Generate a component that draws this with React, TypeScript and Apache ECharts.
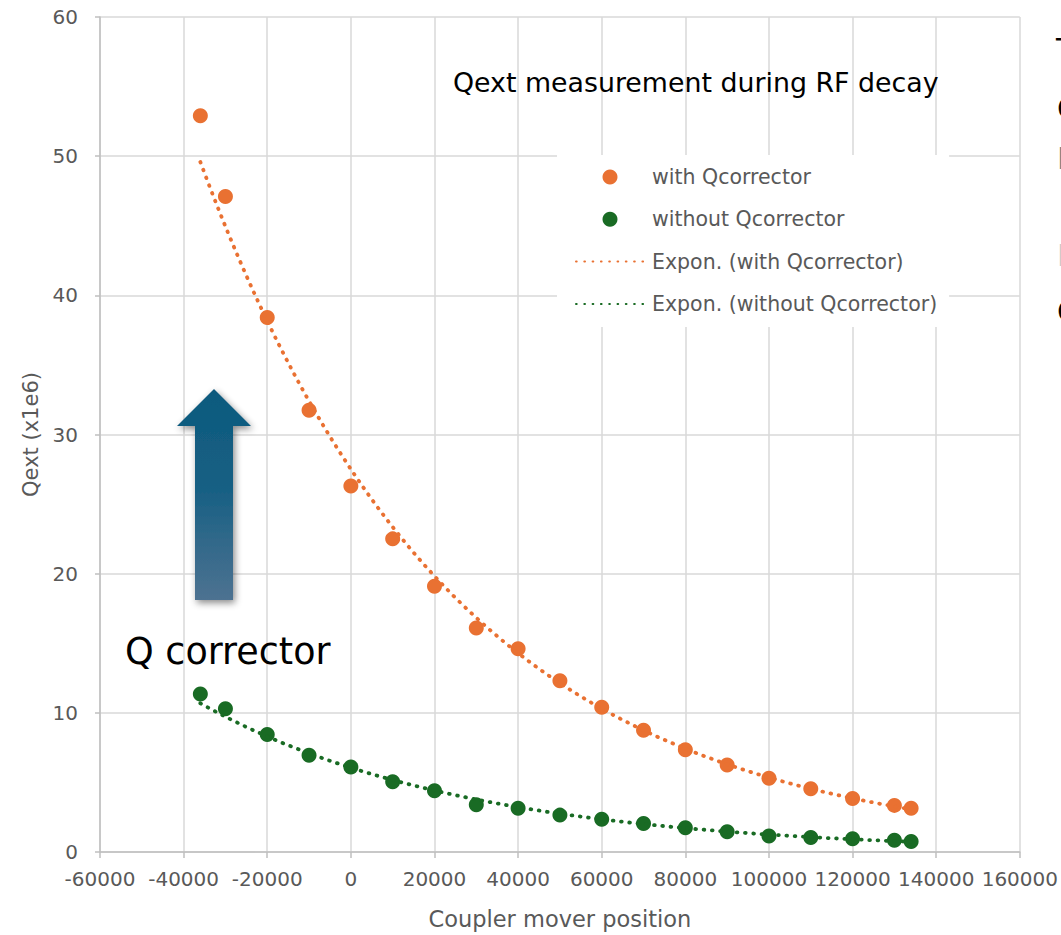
import React, { useEffect, useRef } from "react";
import * as echarts from "echarts";

// Coupler mover positions (x) and measured Qext values (x1e6)
const positions = [
  -36000, -30000, -20000, -10000, 0, 10000, 20000, 30000, 40000, 50000, 60000,
  70000, 80000, 90000, 100000, 110000, 120000, 130000, 134000,
];
const withCorrector = [
  52.9, 47.1, 38.4, 31.75, 26.3, 22.5, 19.1, 16.1, 14.6, 12.3, 10.4, 8.75, 7.35,
  6.25, 5.3, 4.55, 3.85, 3.35, 3.15,
];
const withoutCorrector = [
  11.35, 10.3, 8.45, 6.95, 6.1, 5.05, 4.4, 3.4, 3.15, 2.65, 2.35, 2.05, 1.75,
  1.45, 1.15, 1.05, 0.95, 0.85, 0.75,
];

const seriesNames = [
  "with Qcorrector",
  "without Qcorrector",
  "Expon. (with Qcorrector)",
  "Expon. (without Qcorrector)",
];

const ORANGE = "#E97132";
const GREEN = "#196B24";
const TEXT_GREY = "#595959";
const FONT = "DejaVu Sans";

// Least-squares exponential trend y = a * exp(b * x), fitted on ln(y)
function expTrend(xs: number[], ys: number[], steps: number) {
  const n = xs.length;
  let sx = 0, sy = 0, sxx = 0, sxy = 0;
  for (let i = 0; i < n; i++) {
    const ly = Math.log(ys[i]);
    sx += xs[i];
    sy += ly;
    sxx += xs[i] * xs[i];
    sxy += xs[i] * ly;
  }
  const b = (n * sxy - sx * sy) / (n * sxx - sx * sx);
  const a = Math.exp((sy - b * sx) / n);
  const x0 = Math.min(...xs);
  const x1 = Math.max(...xs);
  const pts: number[][] = [];
  for (let i = 0; i <= steps; i++) {
    const x = x0 + ((x1 - x0) * i) / steps;
    pts.push([x, a * Math.exp(b * x)]);
  }
  return pts;
}

const pairs = (ys: number[]) => positions.map((x, i) => [x, ys[i]]);

export default function App() {
  const ref = useRef<HTMLDivElement>(null);

  useEffect(() => {
    if (!ref.current) return;
    const chart = echarts.init(ref.current, undefined, { renderer: "svg" });

    const axisLineStyle = { color: "#BFBFBF", width: 1.5 };
    const gridLineStyle = { color: "#D9D9D9", width: 1.5 };
    const dotted = (color: string) => ({
      color,
      width: 3.8,
      type: [0.7, 7.6],
      cap: "round",
    });
    const trendSeries = (name: string, color: string, ys: number[]) => ({
      name,
      type: "line",
      symbol: "circle",
      symbolSize: 0,
      showSymbol: false,
      // transparent item colour keeps the legend icon a plain dotted line
      itemStyle: { color: "rgba(0,0,0,0)", borderWidth: 0 },
      lineStyle: dotted(color),
      data: expTrend(positions, ys, 160),
      z: 4,
    });

    chart.setOption({
      animation: false,
      backgroundColor: "#ffffff",
      textStyle: { fontFamily: FONT },
      grid: { left: 100, top: 17, width: 921, height: 835 },
      xAxis: {
        type: "value",
        min: -60000,
        max: 160000,
        interval: 20000,
        name: "Coupler mover position",
        nameLocation: "middle",
        nameGap: 55,
        nameTextStyle: { fontSize: 22.5, color: TEXT_GREY, fontFamily: FONT },
        axisLine: { show: true, onZero: false, lineStyle: axisLineStyle },
        axisTick: { show: true, length: 6, lineStyle: axisLineStyle },
        axisLabel: {
          fontSize: 20,
          color: TEXT_GREY,
          margin: 17,
          fontFamily: FONT,
          formatter: (v: number) => String(v),
        },
        splitLine: { show: true, lineStyle: gridLineStyle },
      },
      yAxis: {
        type: "value",
        min: 0,
        max: 60,
        interval: 10,
        name: "Qext (x1e6)",
        nameLocation: "middle",
        nameGap: 56,
        nameTextStyle: { fontSize: 21, color: TEXT_GREY, fontFamily: FONT },
        axisLine: { show: true, onZero: false, lineStyle: axisLineStyle },
        axisTick: { show: true, length: 5, lineStyle: axisLineStyle },
        axisLabel: { fontSize: 20, color: TEXT_GREY, margin: 22, fontFamily: FONT },
        splitLine: { show: true, lineStyle: gridLineStyle },
      },
      legend: {
        orient: "vertical",
        left: 557,
        top: 155,
        padding: [11, 12, 12, 18],
        backgroundColor: "#ffffff",
        itemWidth: 68,
        itemHeight: 15,
        itemGap: 20.3,
        textStyle: {
          fontSize: 20.5,
          lineHeight: 22,
          color: TEXT_GREY,
          fontFamily: FONT,
          padding: [0, 0, 0, 3],
        },
        data: [
          { name: seriesNames[0], icon: "circle" },
          { name: seriesNames[1], icon: "circle" },
          { name: seriesNames[2] },
          { name: seriesNames[3] },
        ],
      },
      series: [
        {
          name: seriesNames[0],
          type: "scatter",
          symbol: "circle",
          symbolSize: 15,
          itemStyle: { color: ORANGE, opacity: 1 },
          data: pairs(withCorrector),
          z: 3,
        },
        {
          name: seriesNames[1],
          type: "scatter",
          symbol: "circle",
          symbolSize: 15,
          itemStyle: { color: GREEN, opacity: 1 },
          data: pairs(withoutCorrector),
          z: 3,
        },
        trendSeries(seriesNames[2], ORANGE, withCorrector),
        trendSeries(seriesNames[3], GREEN, withoutCorrector),
      ],
      graphic: [
        {
          type: "text",
          left: 453,
          top: 69,
          z: 10,
          style: {
            text: "Qext measurement during RF decay",
            font: `26.8px "${FONT}"`,
            fill: "#000000",
          },
        },
        {
          type: "text",
          left: 125,
          top: 633,
          z: 10,
          style: {
            text: "Q corrector",
            font: `36.5px "${FONT}"`,
            fill: "#000000",
          },
        },
        {
          type: "polygon",
          z: 10,
          shape: {
            points: [
              [214, 389],
              [251, 426],
              [233, 426],
              [233, 600],
              [195, 600],
              [195, 426],
              [177, 426],
            ],
          },
          style: {
            fill: new echarts.graphic.LinearGradient(0, 0, 0, 1, [
              { offset: 0, color: "#0E5A7E" },
              { offset: 0.45, color: "#155F83" },
              { offset: 1, color: "#4D7291" },
            ]),
            shadowBlur: 7,
            shadowOffsetX: 2,
            shadowOffsetY: 3,
            shadowColor: "rgba(0,0,0,0.45)",
          },
        },
        // Edges of the neighbouring text column at the right border
        { type: "text", x: 1056, y: 34, z: 10, style: { text: "T", font: `30px "${FONT}"`, fill: "#000" } },
        { type: "text", x: 1057, y: 93, z: 10, style: { text: "C", font: `30px "${FONT}"`, fill: "#000" } },
        { type: "text", x: 1057, y: 143, z: 10, style: { text: "I", font: `30px "${FONT}"`, fill: "#808080" } },
        { type: "text", x: 1057, y: 240, z: 10, style: { text: "I", font: `30px "${FONT}"`, fill: "#C8C8C8" } },
        { type: "text", x: 1057, y: 296, z: 10, style: { text: "C", font: `30px "${FONT}"`, fill: "#000" } },
      ],
    });

    return () => chart.dispose();
  }, []);

  return (
    <div
      ref={ref}
      style={{ position: "absolute", left: 0, top: 0, width: 1061, height: 935 }}
    />
  );
}
